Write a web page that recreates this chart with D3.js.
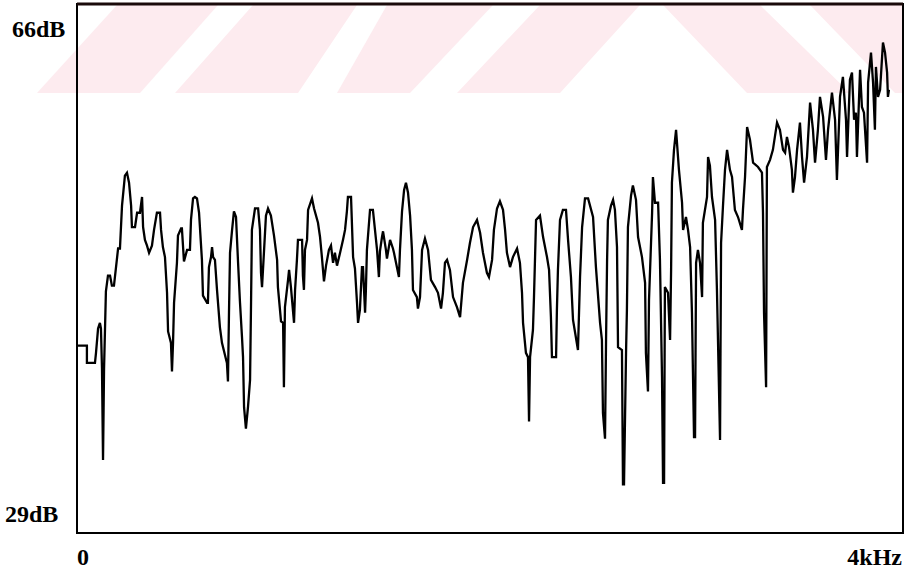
<!DOCTYPE html>
<html>
<head>
<meta charset="utf-8">
<script src="https://cdn.jsdelivr.net/npm/d3@7"></script>
<style>
  html, body { margin: 0; padding: 0; background: #fff; }
  svg { display: block; }
</style>
</head>
<body>
<svg id="chart" width="906" height="577"></svg>
<script>
// Spectrum trace: [frequency in Hz, level in dB]
const spectrum = [
  [5,42.1],[48,42.1],[48,40.9],[87,40.9],[92,41.6],[102,43.3],[111,43.7],[116,43.3],[121,40.5],[126,34.1],
  [131,40.5],[140,45.9],[150,47.0],[160,47.0],[169,46.3],[179,46.3],[189,47.6],[199,48.9],[208,48.9],[218,51.9],
  [232,54.0],[242,54.2],[252,53.5],[262,51.9],[266,50.4],[281,50.4],[291,51.4],[305,51.4],[315,52.5],[320,50.4],
  [329,49.5],[339,49.1],[349,48.6],[363,49.1],[373,50.2],[387,51.4],[402,51.4],[407,50.2],[416,49.0],[426,48.3],
  [436,45.8],[441,43.1],[455,42.3],[460,40.3],[465,42.3],[470,45.1],[484,47.9],[489,49.8],[504,50.3],[508,50.3],
  [518,48.0],[533,48.8],[547,48.8],[552,50.9],[562,52.4],[571,52.5],[581,52.4],[591,51.4],[605,48.1],[610,45.6],
  [630,45.1],[634,45.1],[639,47.6],[649,48.3],[654,49.0],[659,48.3],[668,48.1],[678,46.0],[692,43.4],[702,42.3],
  [726,40.9],[731,39.6],[736,44.4],[741,48.6],[751,50.2],[760,51.5],[770,51.1],[780,47.9],[789,45.2],[799,42.7],
  [804,41.3],[809,37.8],[818,36.3],[828,37.8],[838,39.7],[843,45.3],[847,50.2],[862,51.7],[877,51.7],[886,50.2],
  [891,47.2],[896,46.2],[906,48.8],[915,51.2],[925,51.7],[939,51.2],[954,49.8],[969,48.1],[973,46.2],[988,43.8],
  [998,43.7],[1002,39.2],[1007,44.8],[1022,46.7],[1027,47.4],[1036,46.2],[1051,43.7],[1056,46.0],[1065,48.1],[1070,49.5],
  [1090,49.5],[1094,47.0],[1099,46.0],[1104,48.8],[1114,49.5],[1119,51.6],[1138,52.4],[1148,51.7],[1167,50.7],[1177,49.7],
  [1186,48.3],[1196,46.6],[1206,47.7],[1220,48.8],[1230,49.1],[1240,47.9],[1249,48.6],[1259,47.7],[1274,48.6],[1288,49.5],
  [1298,50.2],[1307,51.5],[1312,52.5],[1327,52.5],[1337,48.3],[1346,47.5],[1356,45.1],[1361,43.7],[1370,44.6],[1380,47.6],
  [1385,47.6],[1395,44.4],[1399,46.0],[1404,48.8],[1419,51.6],[1433,51.6],[1443,50.2],[1453,48.8],[1462,46.9],[1467,48.7],
  [1477,49.7],[1482,50.1],[1496,48.8],[1501,48.2],[1516,49.5],[1530,48.9],[1535,48.6],[1559,46.9],[1564,48.8],[1574,51.5],
  [1584,53.0],[1593,53.5],[1603,52.8],[1613,51.2],[1622,48.8],[1627,46.0],[1646,45.5],[1651,44.7],[1661,45.5],[1671,48.8],
  [1685,49.6],[1700,48.8],[1714,46.7],[1734,46.2],[1748,45.8],[1763,44.7],[1772,45.8],[1782,47.9],[1792,48.1],[1806,47.4],
  [1821,45.5],[1840,44.8],[1855,44.1],[1869,46.5],[1889,48.1],[1903,49.3],[1918,50.4],[1937,50.9],[1952,50.0],[1966,48.6],
  [1985,47.2],[1995,46.9],[2010,48.1],[2019,50.2],[2034,51.7],[2048,52.2],[2063,51.6],[2073,50.2],[2082,48.6],[2097,47.6],
  [2111,48.3],[2131,48.9],[2145,47.9],[2155,45.8],[2160,43.7],[2174,41.6],[2184,41.3],[2189,36.8],[2194,41.3],[2208,43.2],
  [2213,45.5],[2223,50.9],[2242,51.2],[2257,49.7],[2276,48.3],[2286,47.4],[2295,44.1],[2300,41.3],[2320,41.3],[2324,44.6],
  [2329,47.4],[2339,50.9],[2353,51.6],[2368,51.6],[2378,49.5],[2392,46.9],[2402,43.9],[2426,41.8],[2436,46.9],[2446,50.4],
  [2460,52.4],[2475,52.4],[2499,51.1],[2513,47.6],[2533,43.7],[2542,42.5],[2547,37.4],[2557,35.6],[2562,42.5],[2567,48.1],
  [2571,50.9],[2586,51.9],[2596,52.3],[2605,51.6],[2615,49.0],[2620,42.0],[2639,41.8],[2644,32.4],[2649,32.4],[2659,41.8],
  [2663,44.6],[2668,50.4],[2683,52.6],[2692,53.3],[2707,52.3],[2717,49.7],[2736,48.3],[2751,46.5],[2755,41.6],[2765,38.9],
  [2770,45.3],[2785,51.4],[2789,53.9],[2799,52.1],[2814,52.1],[2823,48.1],[2833,39.9],[2838,32.5],[2843,32.5],[2847,46.2],
  [2862,45.8],[2872,42.5],[2877,47.4],[2881,53.5],[2891,55.8],[2901,57.2],[2915,54.4],[2930,52.1],[2935,50.2],[2949,51.1],
  [2959,50.2],[2969,49.0],[2978,44.4],[2988,35.7],[2993,35.7],[2998,47.9],[3007,48.8],[3017,47.9],[3027,45.5],[3031,50.7],
  [3051,52.5],[3056,55.3],[3065,54.7],[3075,52.5],[3090,50.9],[3099,46.0],[3104,42.5],[3114,35.5],[3119,49.3],[3128,51.8],
  [3138,54.4],[3148,55.8],[3162,54.4],[3172,53.9],[3186,51.6],[3201,51.1],[3220,50.2],[3225,51.6],[3235,53.9],[3245,57.4],
  [3259,56.5],[3274,54.9],[3298,54.6],[3317,54.2],[3322,51.4],[3327,44.4],[3337,39.2],[3341,54.6],[3356,55.1],[3370,55.8],
  [3390,57.7],[3404,57.2],[3419,55.8],[3429,55.6],[3438,56.7],[3448,56.0],[3462,54.4],[3467,52.8],[3477,53.9],[3487,55.8],
  [3501,57.7],[3511,55.3],[3521,53.5],[3535,55.3],[3550,59.1],[3564,57.2],[3574,54.9],[3588,57.2],[3598,59.5],[3613,58.1],
  [3627,55.1],[3637,57.2],[3656,59.8],[3671,57.9],[3680,53.7],[3695,59.5],[3709,60.9],[3724,57.9],[3729,55.3],[3743,60.7],
  [3753,61.2],[3763,57.9],[3772,58.4],[3777,55.3],[3792,61.4],[3801,58.8],[3811,58.4],[3826,54.9],[3831,60.5],[3845,62.6],
  [3855,60.5],[3864,57.2],[3869,61.6],[3879,59.5],[3889,60.0],[3903,63.3],[3913,62.6],[3923,61.2],[3927,59.5],[3932,60.0]
];

// Axis ranges and their end labels
const freqDomain = [0, 4000];
const levelDomain = [29, 66];
const freqLabels = ["0", "4kHz"];
const levelLabels = ["66dB", "29dB"];

const svg = d3.select("#chart");
const plot = { left: 77, right: 903, top: 4, bottom: 533 };

const x = d3.scaleLinear().domain(freqDomain).range([plot.left, plot.right]);
const y = d3.scaleLinear().domain(levelDomain).range([plot.bottom, plot.top]);

// Faint diagonal banner across the top of the plot.
// Each stripe: [bottom-left, bottom-right, top-left, top-right] x positions.
const band = { top: 5, bottom: 93 };
const stripes = [
  [37, 140, 117, 218],
  [175, 298, 253, 357],
  [337, 410, 387, 493],
  [457, 560, 540, 640],
  [747, 850, 663, 760],
  [895, 1000, 810, 915]
];
svg.append("clipPath").attr("id", "bandClip")
  .append("rect").attr("x", 0).attr("y", band.top).attr("width", plot.right).attr("height", band.bottom - band.top);
const wm = svg.append("g").attr("fill", "#fdebef").attr("clip-path", "url(#bandClip)");
stripes.forEach(([bl, br, tl, tr]) => {
  wm.append("polygon").attr("points", [
    [bl, band.bottom], [br, band.bottom], [tr, band.top], [tl, band.top]
  ].map(p => p.join(",")).join(" "));
});

// Plot frame
svg.append("rect")
  .attr("x", plot.left).attr("y", plot.top)
  .attr("width", plot.right - plot.left).attr("height", plot.bottom - plot.top)
  .attr("fill", "none").attr("stroke", "#000").attr("stroke-width", 2);
svg.append("line")
  .attr("x1", plot.left).attr("x2", plot.right)
  .attr("y1", plot.top).attr("y2", plot.top)
  .attr("stroke", "#1a0a0a").attr("stroke-width", 3);

// Trace
const line = d3.line().x(d => x(d[0])).y(d => y(d[1])).curve(d3.curveLinear);
svg.append("path")
  .datum(spectrum)
  .attr("d", line)
  .attr("fill", "none")
  .attr("stroke", "#000")
  .attr("stroke-width", 2.3)
  .attr("stroke-linejoin", "miter");

// Labels
const font = { family: "'Liberation Serif', 'DejaVu Serif', serif", size: "24px", weight: "bold" };
function label(txt, px, py, anchor) {
  svg.append("text").text(txt)
    .attr("x", px).attr("y", py)
    .attr("text-anchor", anchor)
    .attr("font-family", font.family)
    .attr("font-size", font.size)
    .attr("font-weight", font.weight)
    .attr("fill", "#000");
}
label(levelLabels[0], 12, y(levelDomain[1]) + 33, "start");
label(levelLabels[1], 5, y(levelDomain[0]) - 11, "start");
label(freqLabels[0], x(freqDomain[0]), 565, "start");
label(freqLabels[1], x(freqDomain[1]) - 1, 565, "end");
</script>
</body>
</html>
